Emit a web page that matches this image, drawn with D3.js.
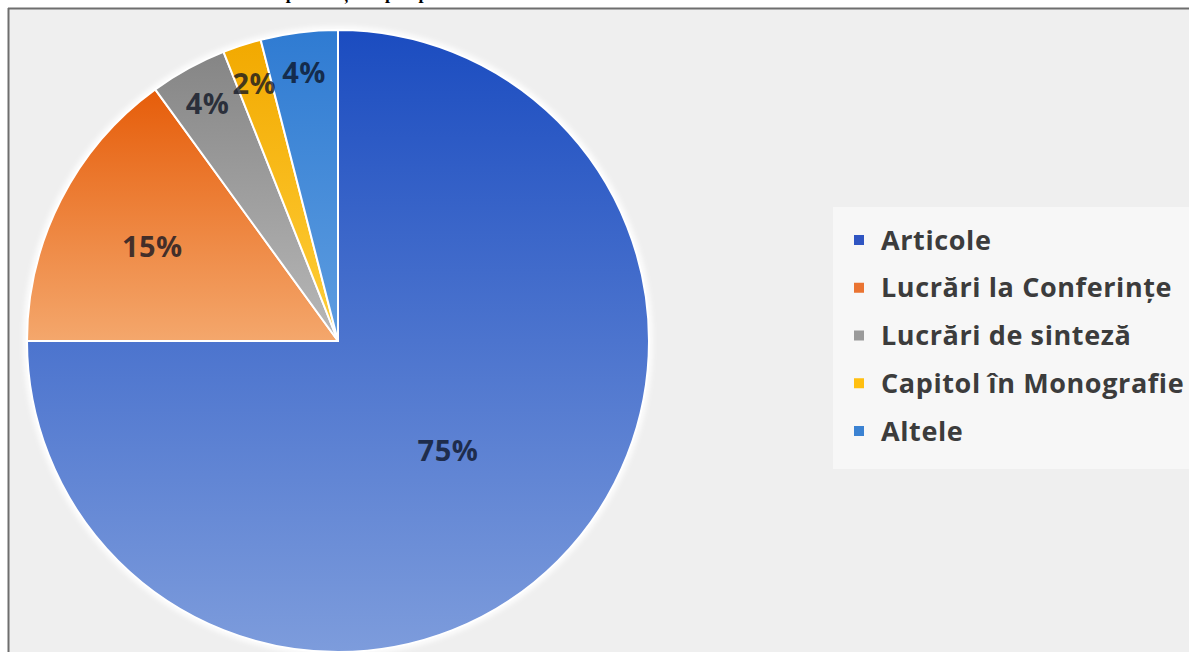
<!DOCTYPE html>
<html>
<head>
<meta charset="utf-8">
<script src="https://cdn.jsdelivr.net/npm/d3@7"></script>
<style>
  html, body { margin: 0; padding: 0; background: #ffffff; }
  svg { display: block; }
</style>
</head>
<body>
<svg id="chart" width="1189" height="652"></svg>
<script>
// ---- data ----
const categories = ["Articole", "Lucrări la Conferințe", "Lucrări de sinteză", "Capitol în Monografie", "Altele"];
const values = [75, 15, 4, 2, 4];
const labels = ["75%", "15%", "4%", "2%", "4%"];
const titleText = "Ponderea publicațiilor pe tipuri";

// ---- styles ----
const gradTop = ["#1b4cc0", "#e65d0a", "#858585", "#f2a900", "#2f7bd2"];
const gradBottom = ["#7d9cdc", "#f4a76c", "#b8b8b8", "#ffcf3a", "#5e9de0"];
const legendColors = ["#2f55c2", "#ea7432", "#9a9a9a", "#ffbf10", "#3b82d2"];

const W = 1189, H = 652;
const cx = 338, cy = 341, R = 311;

const svg = d3.select("#chart");
const defs = svg.append("defs");

// background
svg.append("rect").attr("x", 0).attr("y", 0).attr("width", W).attr("height", H).attr("fill", "#ffffff");
svg.append("rect").attr("x", 9).attr("y", 9).attr("width", W - 9).attr("height", H - 9).attr("fill", "#efefef");

// frame lines (top and left)
svg.append("line").attr("x1", 8).attr("x2", W).attr("y1", 8.5).attr("y2", 8.5)
  .attr("stroke", "#6e6e6e").attr("stroke-width", 2);
svg.append("line").attr("x1", 8.5).attr("x2", 8.5).attr("y1", 8).attr("y2", H)
  .attr("stroke", "#6e6e6e").attr("stroke-width", 2);

// title (mostly cut off at top, as in the reference)
svg.append("text").attr("x", 330).attr("y", -1)
  .attr("text-anchor", "middle")
  .attr("font-family", "Liberation Serif, serif")
  .attr("font-weight", "bold").attr("font-size", 18)
  .attr("fill", "#000").text(titleText);

// gradients
categories.forEach((c, i) => {
  const g = defs.append("linearGradient").attr("id", "g" + i)
    .attr("x1", 0).attr("y1", 0).attr("x2", 0).attr("y2", 1);
  g.append("stop").attr("offset", "0%").attr("stop-color", gradTop[i]);
  g.append("stop").attr("offset", "100%").attr("stop-color", gradBottom[i]);
});

// glow filter
const f = defs.append("filter").attr("id", "glow").attr("x", "-10%").attr("y", "-10%").attr("width", "120%").attr("height", "120%");
f.append("feGaussianBlur").attr("stdDeviation", 2.5);

const pie = d3.pie().sort(null).value(d => d)(values);
const arc = d3.arc().innerRadius(0).outerRadius(R);

const gp = svg.append("g").attr("transform", `translate(${cx},${cy})`);

// soft white halo around the pie
gp.append("circle").attr("r", R + 1).attr("fill", "none")
  .attr("stroke", "#ffffff").attr("stroke-width", 5).attr("filter", "url(#glow)");

gp.selectAll("path.slice").data(pie).join("path")
  .attr("class", "slice")
  .attr("d", arc)
  .attr("fill", (d, i) => `url(#g${i})`)
  .attr("stroke", "#ffffff").attr("stroke-width", 2).attr("stroke-linejoin", "round");

// labels
const ratio = v => v >= 50 ? 0.5 : v >= 10 ? 0.67 : 0.87;
gp.selectAll("text.lbl").data(pie).join("text")
  .attr("class", "lbl")
  .attr("transform", d => {
    const a = (d.startAngle + d.endAngle) / 2;
    const rr = R * ratio(d.value);
    return `translate(${Math.sin(a) * rr},${-Math.cos(a) * rr})`;
  })
  .attr("text-anchor", "middle").attr("dy", "0.36em")
  .attr("font-family", "'Open Sans', Lato, sans-serif").attr("font-weight", "bold")
  .attr("font-size", 29).attr("letter-spacing", 0.5)
  .attr("fill", "#0a1020").attr("fill-opacity", 0.75)
  .text((d, i) => labels[i]);

// legend
svg.append("rect").attr("x", 833).attr("y", 207).attr("width", W - 833).attr("height", 262).attr("fill", "#f7f7f7");
const lg = svg.append("g");
const rowY = d3.scalePoint().domain(categories).range([240, 431]);
const items = lg.selectAll("g").data(categories).join("g")
  .attr("transform", d => `translate(0,${rowY(d)})`);
items.append("rect").attr("x", 854).attr("y", -5).attr("width", 10).attr("height", 10)
  .attr("fill", (d, i) => legendColors[i]);
items.append("text").attr("x", 881).attr("dy", "0.36em")
  .attr("font-family", "'Open Sans', Lato, sans-serif").attr("font-weight", "bold")
  .attr("font-size", 27).attr("letter-spacing", 0.6).attr("fill", "#3c3c3c")
  .text(d => d);
</script>
</body>
</html>
